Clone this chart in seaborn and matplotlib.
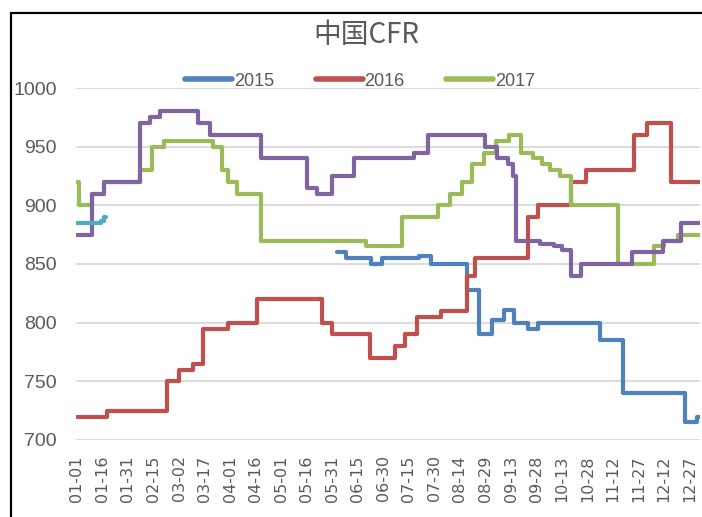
import pandas as pd
import matplotlib
matplotlib.use('Agg')
import matplotlib.pyplot as plt
import seaborn as sns
from matplotlib.patches import Rectangle

# breakpoints (day of year -> price), each value holds until the next day
days_2015 = [153, 158, 173, 179, 201, 208, 229, 233, 236, 244, 251, 257, 265, 271, 307, 321, 357, 364, 366]
vals_2015 = [860, 855, 850, 855, 857, 850, 828, 828, 790, 802, 811, 800, 795, 800, 785, 740, 715, 720, 720]

days_2016 = [0, 18, 53, 60, 68, 74, 89, 106, 144, 150, 172, 187, 193, 200, 214, 229, 234, 265, 271, 290, 299, 327, 335, 349, 366]
vals_2016 = [720, 725, 750, 760, 765, 795, 800, 820, 800, 790, 770, 780, 790, 805, 810, 840, 855, 890, 900, 920, 930, 960, 970, 920, 920]

days_2017 = [0, 1, 9, 16, 37, 44, 51, 80, 85, 89, 94, 108, 170, 191, 212, 219, 226, 232, 239, 246, 254, 261, 268, 273, 278, 284, 290, 318, 339, 345, 353, 366]
vals_2017 = [920, 900, 910, 920, 930, 950, 955, 950, 930, 920, 910, 870, 865, 890, 900, 910, 920, 935, 945, 955, 960, 945, 940, 935, 930, 925, 900, 850, 865, 870, 875, 875]

days_2018 = [0, 9, 16, 37, 43, 49, 71, 78, 108, 135, 141, 150, 163, 198, 206, 240, 247, 253, 256, 258, 272, 280, 285, 290, 296, 326, 344, 355, 366]
vals_2018 = [875, 910, 920, 970, 975, 980, 970, 960, 940, 915, 910, 925, 940, 945, 960, 950, 940, 935, 925, 870, 867, 865, 862, 840, 850, 860, 870, 885, 885]

days_2019 = [0, 14, 16, 17]
vals_2019 = [885, 887, 890, 890]

years = ['2015', '2016', '2017', '2018', '2019']
colors = ['#4F81BD', '#C0504D', '#9BBB59', '#8064A2', '#4BACC6']

tick_days = list(range(0, 361, 15))
tick_labels = ['01-01', '01-16', '01-31', '02-15', '03-02', '03-17', '04-01', '04-16',
               '05-01', '05-16', '05-31', '06-15', '06-30', '07-15', '07-30', '08-14',
               '08-29', '09-13', '09-28', '10-13', '10-28', '11-12', '11-27', '12-12', '12-27']

frames = []
for y, d, v in zip(years, [days_2015, days_2016, days_2017, days_2018, days_2019],
                   [vals_2015, vals_2016, vals_2017, vals_2018, vals_2019]):
    frames.append(pd.DataFrame({'day': d, 'price': v, 'year': y}))
df = pd.concat(frames, ignore_index=True)

sns.set_style('white')
narrow = ['Liberation Sans Narrow', 'Liberation Sans', 'DejaVu Sans']
plt.rcParams['font.family'] = narrow

fig = plt.figure(figsize=(7.02, 5.17), dpi=100)
ax = fig.add_axes([76 / 702, 77 / 517, 624 / 702, 352 / 517])

sns.lineplot(data=df, x='day', y='price', hue='year', hue_order=years,
             palette=colors, estimator=None, sort=True, drawstyle='steps-post',
             lw=3, solid_joinstyle='round', solid_capstyle='round',
             legend=False, ax=ax)

ax.set_xlim(-0.5, 366)
ax.set_ylim(700, 1000)
ax.set_yticks(range(700, 1001, 50))
ax.set_xticks(tick_days)
ax.set_xticklabels(tick_labels, rotation=90, fontsize=11.5, color='#595959',
                   family=['DejaVu Sans'])
ax.tick_params(axis='y', labelsize=14, colors='#595959', pad=14, length=0)
ax.tick_params(axis='x', pad=11, length=0)
ax.set_xlabel('')
ax.set_ylabel('')
ax.grid(axis='y', color='#d9d9d9', lw=1.3)
ax.grid(axis='x', visible=False)
for s in ax.spines.values():
    s.set_visible(False)

handles = [plt.Line2D([], [], color=c, lw=4, solid_capstyle='round') for c in colors[:3]]
fig.legend(handles, years[:3], loc='center', bbox_to_anchor=(0.513, 0.843), ncol=3,
           frameon=False, handlelength=2.6, handletextpad=0.1, columnspacing=2.3,
           prop={'family': narrow, 'size': 13}, labelcolor='#595959')

fig.text(0.522, 0.932, '中国CFR', ha='center', va='center', fontsize=20, color='#595959',
         family=['Liberation Sans Narrow', 'Noto Sans CJK SC'])

fig.patches.append(Rectangle((11 / 702, -0.05), 1.1, 1 - 13 / 517 + 0.05,
                             transform=fig.transFigure, fill=False, ec='black', lw=1.6))

fig.savefig('out.png', dpi=100)
